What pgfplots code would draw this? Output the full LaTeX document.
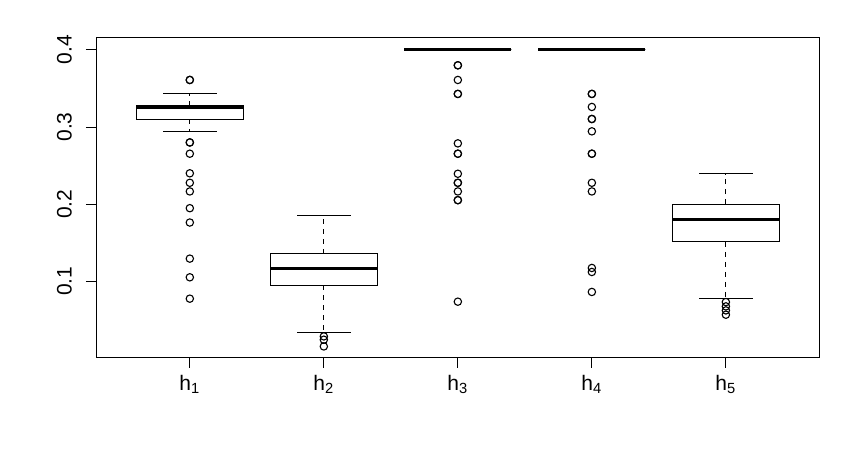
\documentclass[border=0pt]{standalone}
\usepackage{fontspec}
\setmainfont{Liberation Sans}
\usepackage{pgfplots}
\pgfplotsset{compat=1.18}
\usepgfplotslibrary{statistics}

% R-style boxplot: dashed whisker, solid cap, thick median
\pgfplotsset{
  rbox/.style={
    black, line width=0.5pt, mark=o, mark size=1.85pt,
    mark options={solid, line width=0.55pt},
    boxplot/draw direction=y,
    boxplot/box extend=0.8,
    boxplot/whisker extend=0.4,
    boxplot/every median/.style={line width=1.6pt},
    boxplot/draw/lower whisker/.code={
      \draw[dash pattern=on 2.5pt off 2.5pt]
        (boxplot cs:\pgfplotsboxplotvalue{lower quartile}) --
        (boxplot cs:\pgfplotsboxplotvalue{lower whisker});
      \draw (boxplot whisker cs:\pgfplotsboxplotvalue{lower whisker},0) --
        (boxplot whisker cs:\pgfplotsboxplotvalue{lower whisker},1);
    },
    boxplot/draw/upper whisker/.code={
      \draw[dash pattern=on 2.5pt off 2.5pt]
        (boxplot cs:\pgfplotsboxplotvalue{upper quartile}) --
        (boxplot cs:\pgfplotsboxplotvalue{upper whisker});
      \draw (boxplot whisker cs:\pgfplotsboxplotvalue{upper whisker},0) --
        (boxplot whisker cs:\pgfplotsboxplotvalue{upper whisker},1);
    },
  },
}

\begin{document}
\begin{tikzpicture}
\path[use as bounding box] (-48pt,-48pt) rectangle (381pt,179pt);
\begin{axis}[
    at={(0,0)}, anchor=south west,
    scale only axis,
    width=361.85pt, height=160pt,
    xmin=0.3, xmax=5.7,
    ymin=0.0006, ymax=0.4154,
    axis line style={line width=0.5pt},
    tick style={black, line width=0.5pt},
    tick align=outside, major tick length=5pt,
    xtick pos=bottom, ytick pos=left,
    xtick={1,2,3,4,5},
    xticklabels={h\textsubscript{1},h\textsubscript{2},h\textsubscript{3},h\textsubscript{4},h\textsubscript{5}},
    ytick={0.1,0.2,0.3,0.4},
    /pgf/number format/assume math mode=true,
    tick label style={font=\fontsize{10.5}{12}\selectfont},
    yticklabel style={rotate=90, anchor=south, yshift=3.5pt},
]
% h1
\addplot[rbox, boxplot prepared={draw position=1,
    lower whisker=0.2939, lower quartile=0.310, median=0.3256,
    upper quartile=0.3273, upper whisker=0.3429}]
  coordinates {(1,0.361)(1,0.361)(1,0.280)(1,0.280)(1,0.2654)(1,0.240)
    (1,0.2277)(1,0.2165)(1,0.1948)(1,0.1762)(1,0.1294)(1,0.1052)(1,0.0775)};
% h2
\addplot[rbox, boxplot prepared={draw position=2,
    lower whisker=0.0338, lower quartile=0.0948, median=0.1165,
    upper quartile=0.1355, upper whisker=0.1848}]
  coordinates {(2,0.0286)(2,0.0243)(2,0.0156)};
% h3
\addplot[rbox, boxplot prepared={draw position=3,
    lower whisker=0.4, lower quartile=0.4, median=0.4,
    upper quartile=0.4, upper whisker=0.4}]
  coordinates {(3,0.380)(3,0.380)(3,0.361)(3,0.3429)(3,0.3429)(3,0.2788)
    (3,0.2654)(3,0.2654)(3,0.2394)(3,0.2277)(3,0.2277)(3,0.2165)
    (3,0.2052)(3,0.2052)(3,0.0736)};
% h4
\addplot[rbox, boxplot prepared={draw position=4,
    lower whisker=0.4, lower quartile=0.4, median=0.4,
    upper quartile=0.4, upper whisker=0.4}]
  coordinates {(4,0.3429)(4,0.3429)(4,0.326)(4,0.3104)(4,0.3104)(4,0.2944)
    (4,0.2654)(4,0.2654)(4,0.2277)(4,0.2165)(4,0.1173)(4,0.1121)(4,0.0862)};
% h5
\addplot[rbox, boxplot prepared={draw position=5,
    lower whisker=0.0775, lower quartile=0.151, median=0.1805,
    upper quartile=0.200, upper whisker=0.2394}]
  coordinates {(5,0.0731)(5,0.0675)(5,0.0623)(5,0.0567)};
\end{axis}
\end{tikzpicture}
\end{document}
